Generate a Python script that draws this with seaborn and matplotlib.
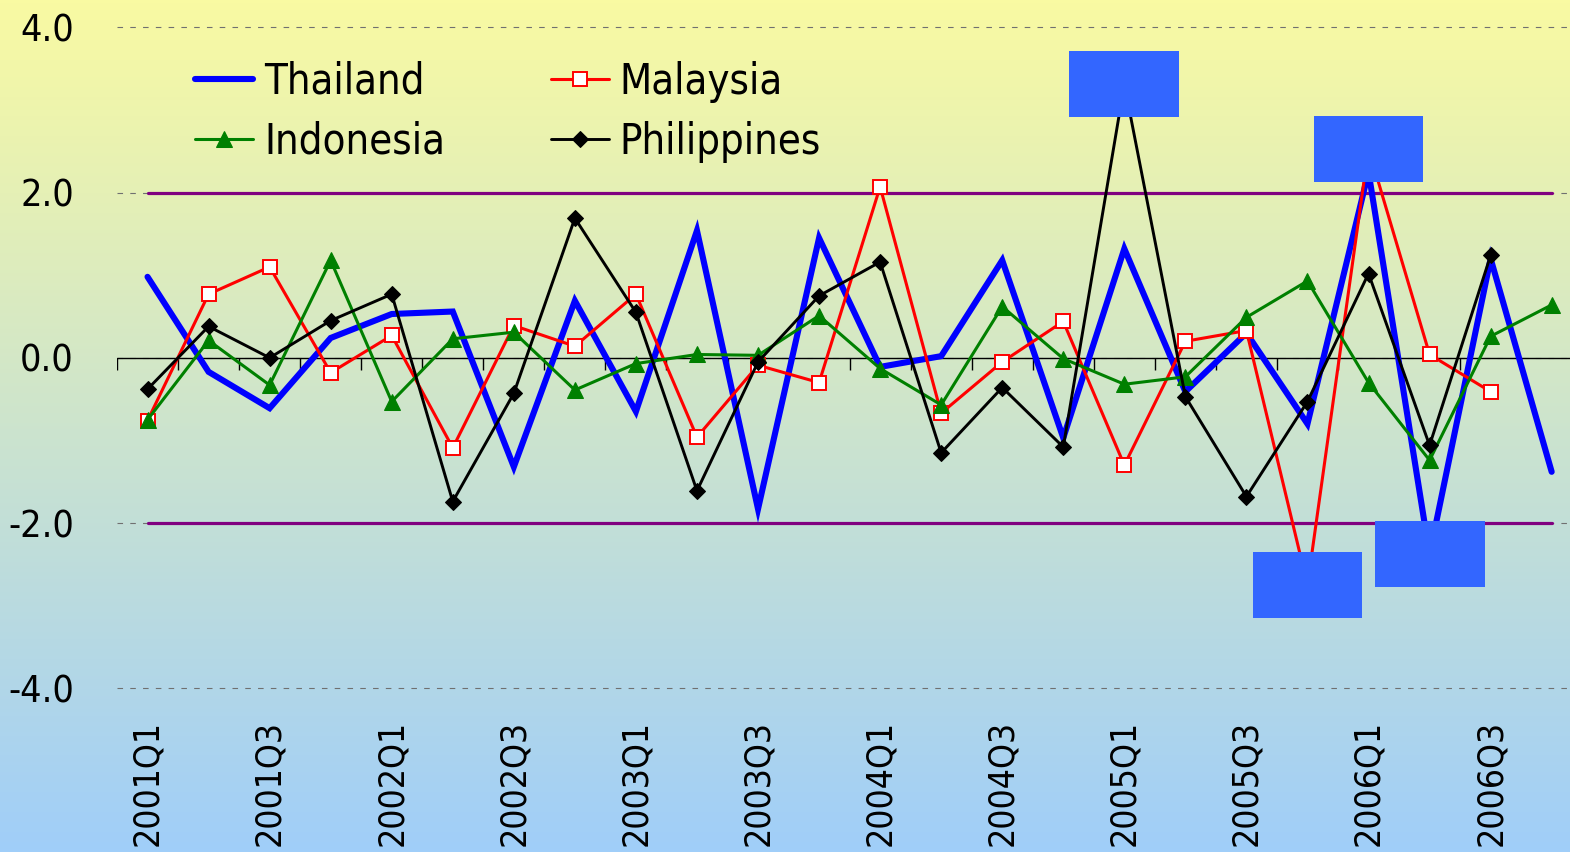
import numpy as np
import pandas as pd
import matplotlib.pyplot as plt
from matplotlib.patches import Rectangle
import seaborn as sns

# quarterly values
quarters = ['2001Q1', '2001Q2', '2001Q3', '2001Q4', '2002Q1', '2002Q2', '2002Q3', '2002Q4',
            '2003Q1', '2003Q2', '2003Q3', '2003Q4', '2004Q1', '2004Q2', '2004Q3', '2004Q4',
            '2005Q1', '2005Q2', '2005Q3', '2005Q4', '2006Q1', '2006Q2', '2006Q3', '2006Q4']
thailand = [0.98, -0.17, -0.61, 0.24, 0.53, 0.56, -1.32, 0.69, -0.65, 1.54, -1.83, 1.45,
            -0.11, 0.02, 1.18, -0.97, 1.32, -0.41, 0.30, -0.80, 2.25, -2.38, 1.20, -1.38]
malaysia = [-0.76, 0.77, 1.10, -0.18, 0.27, -1.09, 0.39, 0.14, 0.77, -0.96, -0.09, -0.30,
            2.07, -0.67, -0.05, 0.44, -1.30, 0.20, 0.33, -2.75, 2.53, 0.04, -0.41]
indonesia = [-0.75, 0.21, -0.33, 1.18, -0.53, 0.23, 0.31, -0.39, -0.07, 0.04, 0.03, 0.51,
             -0.13, -0.57, 0.62, -0.01, -0.32, -0.23, 0.49, 0.93, -0.30, -1.24, 0.26, 0.64]
philippines = [-0.38, 0.38, 0.00, 0.45, 0.77, -1.74, -0.43, 1.69, 0.55, -1.61, -0.05, 0.75,
               1.16, -1.15, -0.36, -1.08, 3.31, -0.47, -1.68, -0.53, 1.02, -1.06, 1.24]
band_upper = 2.0
band_lower = -2.0
y_ticks = [-4.0, -2.0, 0.0, 2.0, 4.0]

sns.set_style('white')
plt.rcParams['font.family'] = ['DejaVu Sans']
plt.rcParams['font.stretch'] = 'condensed'
plt.rcParams['text.color'] = 'black'
plt.rcParams['xtick.color'] = 'black'
plt.rcParams['ytick.color'] = 'black'

W, H = 1570, 852
fig = plt.figure(figsize=(W / 100, H / 100), dpi=100)

# yellow -> blue background gradient
bg = fig.add_axes([0, 0, 1, 1], zorder=-1)
top = np.array([249, 250, 162]) / 255
bot = np.array([160, 206, 249]) / 255
t = np.linspace(0, 1, 256)[:, None]
grad = top[None, :] * (1 - t) + bot[None, :] * t
bg.imshow(grad[:, None, :], extent=[0, 1, 0, 1], aspect='auto')
bg.axis('off')

ax_left, ax_top, ax_bot = 117, 27.3, 688.3
ax = fig.add_axes([ax_left / W, 1 - ax_bot / H, 1 - ax_left / W, (ax_bot - ax_top) / H])
ax.set_facecolor('none')

n = len(quarters)
pos = np.arange(n)
step = 61.05

# threshold bands
sns.lineplot(x=pos, y=[band_upper] * n, ax=ax, color='#800080', lw=2.3, zorder=2)
sns.lineplot(x=pos, y=[band_lower] * n, ax=ax, color='#800080', lw=2.3, zorder=2)

sns.lineplot(x=pos[:len(thailand)], y=thailand, ax=ax, color='#0000ff', lw=4.4,
             solid_capstyle='round', solid_joinstyle='miter', zorder=3)
h_th = ax.lines[-1]
sns.lineplot(x=pos[:len(malaysia)], y=malaysia, ax=ax, color='#ff0000', lw=2.2,
             marker='s', markersize=10, markerfacecolor='white', markeredgecolor='#ff0000',
             markeredgewidth=1.4, zorder=4)
h_ma = ax.lines[-1]
sns.lineplot(x=pos[:len(indonesia)], y=indonesia, ax=ax, color='#008000', lw=2.2,
             marker='^', markersize=11, markerfacecolor='#008000', markeredgecolor='#008000',
             zorder=5)
h_in = ax.lines[-1]
sns.lineplot(x=pos[:len(philippines)], y=philippines, ax=ax, color='black', lw=2.1,
             marker='D', markersize=8.5, markerfacecolor='black', markeredgecolor='black',
             zorder=6)
h_ph = ax.lines[-1]

# zero axis with category tick marks
ax.axhline(0, color='black', lw=1, zorder=2.5)
ax.vlines(np.arange(-0.5, n), -12 / 82.6, 0, color='black', lw=1, zorder=2.5)

# blue label boxes at the outlying points
for series, i in [(philippines, 16), (malaysia, 20), (malaysia, 19), (thailand, 21)]:
    ax.add_patch(Rectangle((pos[i] - 0.9, series[i] - 0.4), 1.8, 0.8,
                           facecolor='#3366ff', edgecolor='none', zorder=7))

ax.set_xlim(-0.5, -0.5 + (W - ax_left) / step)
ax.set_ylim(-4, 4)
ax.set_yticks(y_ticks)
ax.set_yticklabels([f'{v:.1f}' for v in y_ticks])
ax.set_xticks(pos[::2])
ax.set_xticklabels(quarters[::2], rotation=90)
ax.tick_params(axis='y', length=0, pad=31, labelsize=27)
ax.tick_params(axis='x', length=0, pad=23, labelsize=25.5)
ax.set_xlabel('')
ax.set_ylabel('')
ax.grid(axis='y', color='#707070', lw=0.8, linestyle=(0, (5, 6.5)))
ax.grid(axis='x', visible=False)
for gl in ax.get_ygridlines():
    gl.set_clip_on(False)
for s in ax.spines.values():
    s.set_visible(False)

ax.legend([h_th, h_in, h_ma, h_ph], ['Thailand', 'Indonesia', 'Malaysia', 'Philippines'],
          ncol=2, frameon=False, fontsize=30, handlelength=1.4, handletextpad=0.26,
          columnspacing=2.53, labelspacing=0.43, borderpad=0, borderaxespad=0,
          loc='upper left', bbox_to_anchor=(195 / W, 1 - 61 / H), bbox_transform=fig.transFigure)

fig.savefig('out.png', dpi=100)
